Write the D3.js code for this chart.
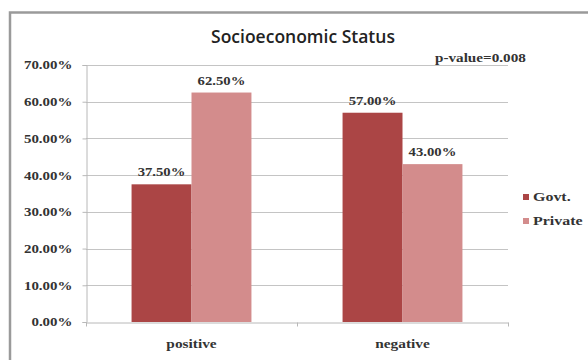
<!DOCTYPE html>
<html><head><meta charset="utf-8">
<script src="https://cdn.jsdelivr.net/npm/d3@7"></script>
<style>
html,body{margin:0;padding:0;background:#fff;}
svg{display:block;}
</style></head>
<body>
<svg id="chart" width="588" height="360"></svg>
<script>
const categories = ["positive", "negative"];
const seriesNames = ["Govt.", "Private"];
const govtValues = [37.5, 57.0];
const privateValues = [62.5, 43.0];
const yTicks = [0, 10, 20, 30, 40, 50, 60, 70];
const titleText = "Socioeconomic Status";
const pValueText = "p-value=0.008";
const colors = ["#AB4545", "#D38C8C"];

const svg = d3.select("#chart");
const serif = "'Liberation Serif', 'Times New Roman', serif";

// widen text horizontally around its anchor
function stretch(sel, k) {
  sel.each(function () {
    const t = d3.select(this);
    const x = +t.attr("x") || 0, y = +t.attr("y") || 0;
    t.attr("x", 0).attr("y", 0).attr("transform", `translate(${x},${y}) scale(${k},1)`);
  });
}

// outer frame (left and top edges visible)
svg.append("rect").attr("x", 10).attr("y", 12.5).attr("width", 700).attr("height", 400)
  .attr("fill", "#fff").attr("stroke", "#9a9a9a").attr("stroke-width", 2.5);

const plot = {left: 86, right: 508, top: 65, bottom: 322};
const x = d3.scaleBand().domain(categories).range([plot.left, plot.right]).paddingInner(0).paddingOuter(0);
const y = d3.scaleLinear().domain([0, 70]).range([plot.bottom, plot.top]);
const inner = d3.scaleBand().domain(seriesNames).range([0, x.bandwidth()]).paddingOuter(0.76).paddingInner(0);

// gridlines
svg.append("g").selectAll("line").data(yTicks.filter(d => d > 0)).join("line")
  .attr("x1", plot.left).attr("x2", plot.right)
  .attr("y1", d => Math.round(y(d)) + 0.5).attr("y2", d => Math.round(y(d)) + 0.5)
  .attr("stroke", "#c4c4c4").attr("stroke-width", 1);

// y axis
const yAxis = d3.axisLeft(y).tickValues(yTicks).tickFormat(d => d.toFixed(2) + "%").tickSize(4).tickPadding(10);
const gy = svg.append("g").attr("transform", `translate(${plot.left + 0.5},0)`).call(yAxis);
gy.select(".domain").attr("stroke", "#b8b8b8");
gy.selectAll(".tick line").attr("stroke", "#b8b8b8");
gy.selectAll(".tick text").attr("font-family", serif).attr("font-weight", "bold")
  .attr("font-size", 11.5).attr("fill", "#333").attr("dy", null).attr("dominant-baseline", "central")
  .call(stretch, 1.3);

// bars
const data = categories.map((c, i) => ({cat: c, vals: [govtValues[i], privateValues[i]]}));
const groups = svg.append("g").selectAll("g").data(data).join("g")
  .attr("transform", d => `translate(${x(d.cat)},0)`);
groups.selectAll("rect").data(d => d.vals.map((v, j) => ({v, s: seriesNames[j], j}))).join("rect")
  .attr("x", d => inner(d.s)).attr("width", inner.bandwidth())
  .attr("y", d => y(d.v)).attr("height", d => y(0) - y(d.v))
  .attr("fill", d => colors[d.j]);
groups.selectAll("text").data(d => d.vals.map((v, j) => ({v, s: seriesNames[j], j}))).join("text")
  .attr("x", d => inner(d.s) + inner.bandwidth() / 2).attr("y", d => y(d.v) - 8)
  .attr("text-anchor", "middle").attr("font-family", serif).attr("font-weight", "bold")
  .attr("font-size", 11.5).attr("fill", "#333")
  .text(d => d.v.toFixed(2) + "%")
  .call(stretch, 1.28);

// x axis
const xAxis = d3.axisBottom(x).tickSize(0).tickPadding(17);
const gx = svg.append("g").attr("transform", `translate(0,${plot.bottom + 0.5})`).call(xAxis);
gx.select(".domain").attr("stroke", "#b8b8b8");
gx.selectAll(".tick text").attr("font-family", serif).attr("font-weight", "bold")
  .attr("font-size", 12).attr("fill", "#333").call(stretch, 1.28);
// category boundary ticks
gx.append("g").selectAll("line").data([plot.left, plot.left + x.bandwidth(), plot.right]).join("line")
  .attr("x1", d => d + 0.5).attr("x2", d => d + 0.5).attr("y1", 0).attr("y2", 4)
  .attr("stroke", "#b8b8b8");

// title
svg.append("text").attr("x", 303).attr("y", 43).attr("text-anchor", "middle")
  .attr("font-family", "'Open Sans', 'Noto Sans', sans-serif").attr("font-weight", "600")
  .attr("font-size", 17.5).attr("fill", "#222").text(titleText);

// p-value
svg.append("text").attr("x", 435).attr("y", 62).attr("font-family", serif)
  .attr("font-weight", "bold").attr("font-size", 11.5).attr("fill", "#333").text(pValueText)
  .call(stretch, 1.32);

// legend
const legend = svg.append("g").selectAll("g").data(seriesNames).join("g")
  .attr("transform", (d, i) => `translate(523,${197 + i * 24})`);
legend.append("rect").attr("x", 0).attr("y", -3).attr("width", 6).attr("height", 6)
  .attr("fill", (d, i) => colors[i]);
legend.append("text").attr("x", 10).attr("y", 4).attr("font-family", serif)
  .attr("font-weight", "bold").attr("font-size", 12).attr("fill", "#333").text(d => d)
  .call(stretch, 1.33);
</script>
</body></html>
